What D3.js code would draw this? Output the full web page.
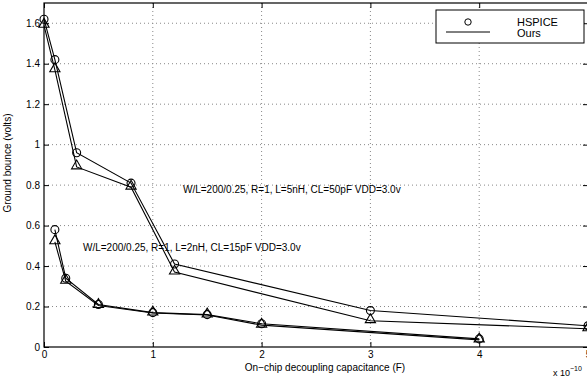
<!DOCTYPE html>
<html>
<head>
<meta charset="utf-8">
<script src="https://d3js.org/d3.v7.min.js"></script>
<style>
  body { margin: 0; background: white; }
  svg { font-family: "Liberation Sans", Arial, sans-serif; }
  .grid line { stroke: #888; stroke-dasharray: 1,3; }
</style>
</head>
<body>
<div id="chart"></div>
<script>
// x in units of 1e-10 F
var x5nH = [0, 0.1, 0.3, 0.8, 1.2, 3, 5];
var hspice5nH = [1.62, 1.42, 0.96, 0.81, 0.41, 0.18, 0.105];
var ours5nH = [1.59, 1.37, 0.89, 0.79, 0.37, 0.13, 0.09];

var x2nH = [0.1, 0.2, 0.5, 1.0, 1.5, 2, 4];
var hspice2nH = [0.58, 0.34, 0.21, 0.17, 0.16, 0.115, 0.04];
var ours2nH = [0.52, 0.325, 0.205, 0.168, 0.158, 0.108, 0.035];

var xTicks = [0, 1, 2, 3, 4, 5];
var yTicks = [0, 0.2, 0.4, 0.6, 0.8, 1, 1.2, 1.4, 1.6];

var W = 587, H = 379;
var mLeft = 44, mRight = 588, mTop = 3, mBottom = 347;

var svg = d3.select("#chart").append("svg").attr("width", W).attr("height", H);

var x = d3.scaleLinear().domain([0, 5]).range([mLeft, mRight]);
var y = d3.scaleLinear().domain([0, 1.7]).range([mBottom, mTop]);

// grid
var g = svg.append("g").attr("class", "grid");
g.selectAll(".gy").data(yTicks.slice(1)).enter().append("line")
  .attr("x1", mLeft).attr("x2", mRight)
  .attr("y1", d => y(d)).attr("y2", d => y(d));
g.selectAll(".gx").data(xTicks.slice(1, 5)).enter().append("line")
  .attr("y1", mTop).attr("y2", mBottom)
  .attr("x1", d => x(d)).attr("x2", d => x(d));

// axes
svg.append("g").attr("transform", "translate(0," + mBottom + ")")
  .call(d3.axisBottom(x).tickValues(xTicks).tickSize(-5).tickPadding(4).tickFormat(d3.format("d")))
  .call(a => a.select(".domain").remove());
svg.append("g").attr("transform", "translate(" + mLeft + ",0)")
  .call(d3.axisLeft(y).tickValues(yTicks).tickSize(-5).tickPadding(4).tickFormat(d => d3.format("~g")(d)))
  .call(a => a.select(".domain").remove());
// top/right ticks
svg.append("g").attr("transform", "translate(0," + mTop + ")")
  .call(d3.axisTop(x).tickValues(xTicks).tickSize(-5).tickFormat(""))
  .call(a => a.select(".domain").remove());
svg.append("g").attr("transform", "translate(" + mRight + ",0)")
  .call(d3.axisRight(y).tickValues(yTicks).tickSize(-5).tickFormat(""))
  .call(a => a.select(".domain").remove());
svg.selectAll(".tick text").attr("font-size", 10).attr("fill", "#000")
  .attr("font-family", "Liberation Sans, Arial, sans-serif");
svg.selectAll(".tick line").attr("stroke", "#000");

svg.append("rect").attr("x", mLeft).attr("y", mTop)
  .attr("width", mRight - mLeft).attr("height", mBottom - mTop)
  .attr("fill", "none").attr("stroke", "#000").attr("stroke-width", 1.2);

var line = d3.line().x(d => x(d[0])).y(d => y(d[1]));

function drawSeries(xs, ys, marker) {
  var pts = xs.map((v, i) => [v, ys[i]]);
  svg.append("path").datum(pts).attr("d", line)
    .attr("fill", "none").attr("stroke", "#000").attr("stroke-width", 1.1);
  var sym = d3.symbol().type(marker === "o" ? d3.symbolCircle : d3.symbolTriangle)
    .size(marker === "o" ? 50 : 45);
  svg.append("g").selectAll("path").data(pts).enter().append("path")
    .attr("d", sym)
    .attr("transform", d => "translate(" + x(d[0]) + "," + (y(d[1]) + (marker === "o" ? 0 : -1)) + ")")
    .attr("fill", "none").attr("stroke", "#000").attr("stroke-width", 1.1);
}
drawSeries(x5nH, hspice5nH, "o");
drawSeries(x5nH, ours5nH, "^");
drawSeries(x2nH, hspice2nH, "o");
drawSeries(x2nH, ours2nH, "^");

// annotations
svg.append("text").attr("x", 183).attr("y", 193).attr("font-size", 10)
  .text("W/L=200/0.25, R=1, L=5nH, CL=50pF VDD=3.0v");
svg.append("text").attr("x", 83).attr("y", 251).attr("font-size", 10)
  .text("W/L=200/0.25, R=1, L=2nH, CL=15pF VDD=3.0v");

// labels
svg.append("text").attr("x", 325).attr("y", 371).attr("text-anchor", "middle")
  .attr("font-size", 10).text("On\u2212chip decoupling capacitance (F)");
svg.append("text").attr("transform", "translate(11,163) rotate(-90)")
  .attr("text-anchor", "middle").attr("font-size", 10).text("Ground bounce (volts)");
var ex = svg.append("text").attr("x", 553).attr("y", 376).attr("font-size", 9);
ex.append("tspan").text("x 10");
ex.append("tspan").attr("dy", -5).attr("font-size", 7).text("\u221210");

// legend
var lg = svg.append("g");
lg.append("rect").attr("x", 436).attr("y", 10).attr("width", 148).attr("height", 33)
  .attr("fill", "#fff").attr("stroke", "#000").attr("stroke-width", 1);
lg.append("circle").attr("cx", 468).attr("cy", 22).attr("r", 3.2)
  .attr("fill", "none").attr("stroke", "#000");
lg.append("line").attr("x1", 446).attr("x2", 490).attr("y1", 32).attr("y2", 32)
  .attr("stroke", "#000");
lg.append("text").attr("x", 517).attr("y", 26).attr("font-size", 11).text("HSPICE");
lg.append("text").attr("x", 517).attr("y", 37).attr("font-size", 11).text("Ours");
</script>
</body>
</html>
